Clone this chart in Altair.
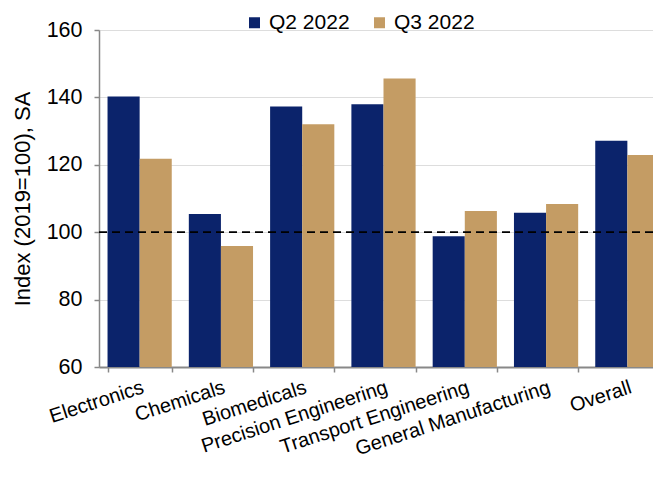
import altair as alt
import pandas as pd

categories = ["Electronics", "Chemicals", "Biomedicals", "Precision Engineering",
              "Transport Engineering", "General Manufacturing", "Overall"]
series = ["Q2 2022", "Q3 2022"]
q2_2022 = [140.3, 105.4, 137.3, 138.0, 98.8, 105.8, 127.1]
q3_2022 = [121.8, 95.9, 132.0, 145.6, 106.3, 108.4, 122.9]
y_ticks = [60, 80, 100, 120, 140, 160]
reference_level = 100
y_title = "Index (2019=100), SA"

rows = []
for c, a, b in zip(categories, q2_2022, q3_2022):
    rows.append({"category": c, "series": series[0], "value": a})
    rows.append({"category": c, "series": series[1], "value": b})
df = pd.DataFrame(rows)

FONT = "Liberation Sans"
NAVY = "#0B236B"
TAN = "#C49C64"

W, H = 554, 337

bars = alt.Chart(df).mark_bar().encode(
    x=alt.X("category:N", sort=categories, title=None,
            scale=alt.Scale(range=[0, 569], paddingInner=0.21, paddingOuter=0.105),
            axis=alt.Axis(labelAngle=-18, labelAlign="right", labelBaseline="top",
                          labelPadding=5, tickSize=5, tickBand="extent",
                          labelOverlap=False, labelLimit=0, labelBound=False,
                          domainWidth=2, tickWidth=1.5, labelFontSize=20)),
    xOffset=alt.XOffset("series:N", sort=series),
    y=alt.Y("value:Q", title=y_title,
            scale=alt.Scale(domain=[60, 160], nice=False, zero=False),
            axis=alt.Axis(values=y_ticks, tickSize=5, labelPadding=12,
                          domainWidth=1.5, tickWidth=1.5, labelFontSize=21.5,
                          titleFontSize=22, titleFontWeight="normal",
                          titleAngle=-90, titleX=-70, titleY=H / 2,
                          titleBaseline="alphabetic", titleAlign="center")),
    y2=alt.datum(60),
    color=alt.Color("series:N", sort=series,
                    scale=alt.Scale(domain=series, range=[NAVY, TAN]),
                    legend=alt.Legend(title=None, orient="none", direction="horizontal",
                                      legendX=145, legendY=-18, symbolType="square",
                                      symbolSize=121, symbolStrokeWidth=0,
                                      labelFontSize=21, labelOffset=4,
                                      columnPadding=19, labelColor="black",
                                      labelFont=FONT)),
)

rule = alt.Chart(pd.DataFrame({"level": [reference_level]})).mark_rule(
    color="black", strokeWidth=1.8, strokeDash=[8, 5]
).encode(
    y=alt.Y("level:Q"),
    x=alt.value(0),
    x2=alt.value(W),
)

chart = alt.layer(bars, rule).properties(
    width=W, height=H,
    autosize=alt.AutoSizeParams(type="none"),
    padding={"left": 91, "top": 22, "right": 0, "bottom": 95},
).configure_view(stroke=None).configure_axis(
    grid=False, domainColor="black", tickColor="black", labelColor="black",
    titleColor="black", labelFont=FONT, titleFont=FONT
).configure(font=FONT)

chart.save("out.html", embed_options={"renderer": "svg", "actions": False})
